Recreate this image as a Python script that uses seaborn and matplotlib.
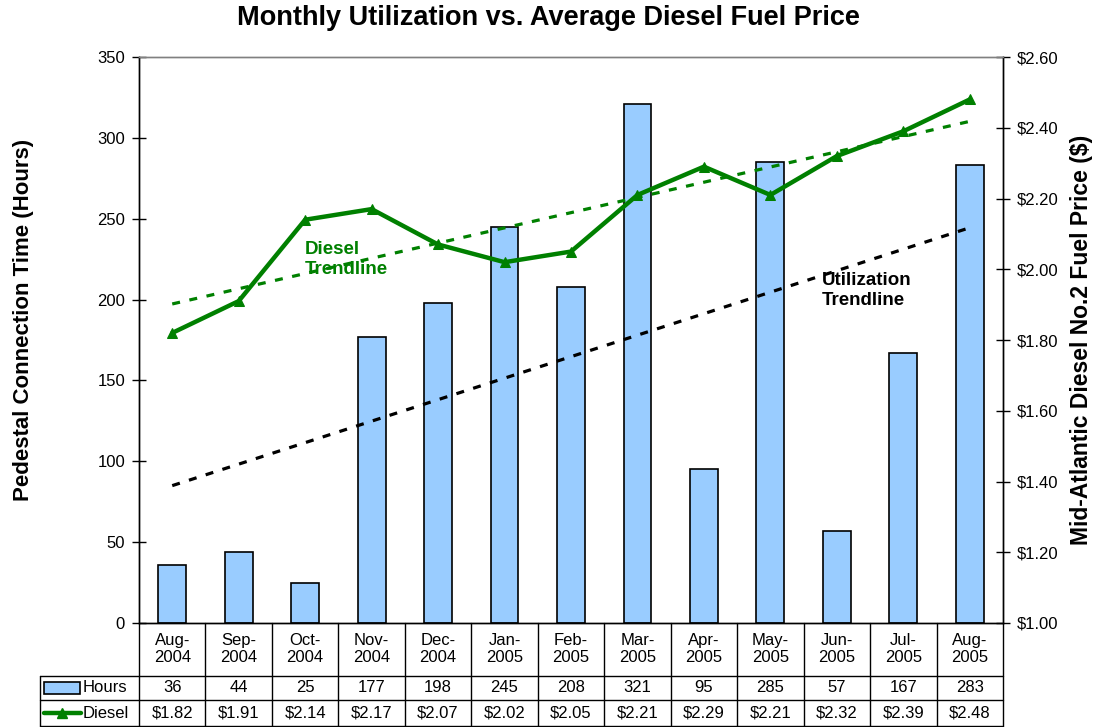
import matplotlib
matplotlib.use("Agg")
import matplotlib.pyplot as plt
import matplotlib.transforms as mtransforms
from matplotlib.lines import Line2D
from matplotlib.patches import Rectangle
import seaborn as sns
import numpy as np
import pandas as pd

months = ["Aug-\n2004", "Sep-\n2004", "Oct-\n2004", "Nov-\n2004", "Dec-\n2004", "Jan-\n2005",
          "Feb-\n2005", "Mar-\n2005", "Apr-\n2005", "May-\n2005", "Jun-\n2005", "Jul-\n2005", "Aug-\n2005"]
hours = [36, 44, 25, 177, 198, 245, 208, 321, 95, 285, 57, 167, 283]
diesel = [1.82, 1.91, 2.14, 2.17, 2.07, 2.02, 2.05, 2.21, 2.29, 2.21, 2.32, 2.39, 2.48]

sns.set_style("white")
plt.rcParams['font.family'] = ['Liberation Sans', 'DejaVu Sans']
plt.rcParams.update({"text.color": "black", "axes.labelcolor": "black",
                     "xtick.color": "black", "ytick.color": "black"})

W, H = 1097, 727
fig = plt.figure(figsize=(W / 100, H / 100), dpi=100)
L, R, T, B = 139, 1003, 57, 623
ax = fig.add_axes([L / W, 1 - B / H, (R - L) / W, (B - T) / H])

blue = "#99CCFF"
green = "#008000"
pos = np.arange(len(hours))
df = pd.DataFrame({"pos": pos, "hours": hours, "diesel": diesel})

sns.barplot(data=df, x="pos", y="hours", color=blue, edgecolor="black", linewidth=1.2,
            width=0.42, saturation=1, ax=ax, native_scale=True)
ax.set_xlim(-0.5, len(hours) - 0.5)
ax.set_ylim(0, 350)
ax.set_yticks(range(0, 351, 50))
ax.set_xticks([])
ax.set_xlabel("")
ax.set_ylabel("Pedestal Connection Time (Hours)", fontsize=16, fontweight="bold")
ax.yaxis.set_label_coords(-0.122, 0.535)
ax.tick_params(axis="y", direction="inout", length=10, width=1, labelsize=12, left=True, pad=5)

# utilization trendline
k, b = np.polyfit(pos, hours, 1)
ax.plot(pos, k * pos + b, color="black", linestyle=(0, (2.5, 3)), linewidth=2.3)

ax2 = ax.twinx()
sns.lineplot(data=df, x="pos", y="diesel", color=green, linewidth=3.2, marker="^",
             markersize=7, markeredgecolor=green, ax=ax2)
k2, b2 = np.polyfit(pos, diesel, 1)
ax2.plot(pos, k2 * pos + b2, color=green, linestyle=(0, (2.5, 3)), linewidth=2.3)
ax2.set_ylim(1.0, 2.6)
ax2.set_yticks(np.arange(1.0, 2.61, 0.2))
ax2.set_yticklabels([f"${v:.2f}" for v in np.arange(1.0, 2.61, 0.2)])
ax2.set_xlabel("")
ax2.set_ylabel("Mid-Atlantic Diesel No.2 Fuel Price ($)", fontsize=16.5, fontweight="bold")
ax2.yaxis.set_label_coords(1.077, 0.50)
ax2.tick_params(axis="y", direction="inout", length=10, width=1, labelsize=12, right=True, pad=5)

for a in (ax, ax2):
    for s in a.spines.values():
        s.set_color("black")
        s.set_linewidth(1)
    a.spines["top"].set_color("#808080")

ax.text(2.0, 236, "Diesel\nTrendline", color=green, fontsize=13.5, fontweight="bold", va="top",
        linespacing=1.2)
ax.text(9.78, 217, "Utilization\nTrendline", color="black", fontsize=13.5, fontweight="bold", va="top",
        linespacing=1.2)

fig.text(0.5, 1 - 18 / H, "Monthly Utilization vs. Average Diesel Fuel Price", ha="center", va="center",
         fontsize=19.5, fontweight="bold")

# data table under the chart
tr = mtransforms.blended_transform_factory(ax.transData, fig.transFigure)
fy = lambda py: 1 - py / H
fx = lambda px: px / W
rows = [623, 676, 700, 726]
for i in range(len(hours) + 1):
    fig.add_artist(Line2D([i - 0.5, i - 0.5], [fy(623), fy(726)], transform=tr, color="black", lw=1))
for y in rows[1:]:
    fig.add_artist(Line2D([fx(40), fx(R)], [fy(y), fy(y)], color="black", lw=1))
fig.add_artist(Line2D([fx(40), fx(40)], [fy(676), fy(726)], color="black", lw=1))
for i in range(len(hours)):
    fig.text(i, fy(649), months[i], transform=tr, ha="center", va="center", fontsize=12, linespacing=1.2)
    fig.text(i, fy(688), str(hours[i]), transform=tr, ha="center", va="center", fontsize=12)
    fig.text(i, fy(713), f"${diesel[i]:.2f}", transform=tr, ha="center", va="center", fontsize=12)
fig.add_artist(Rectangle((fx(44), fy(694)), fx(36), 12 / H, facecolor=blue, edgecolor="black", lw=1.2))
fig.text(fx(83), fy(688), "Hours", ha="left", va="center", fontsize=12)
fig.add_artist(Line2D([fx(44), fx(81)], [fy(713), fy(713)], color=green, lw=3.2))
fig.add_artist(Line2D([fx(62)], [fy(713)], color=green, marker="^", markersize=7, markeredgecolor=green))
fig.text(fx(83), fy(713), "Diesel", ha="left", va="center", fontsize=12)

fig.savefig("out.png", dpi=100)
